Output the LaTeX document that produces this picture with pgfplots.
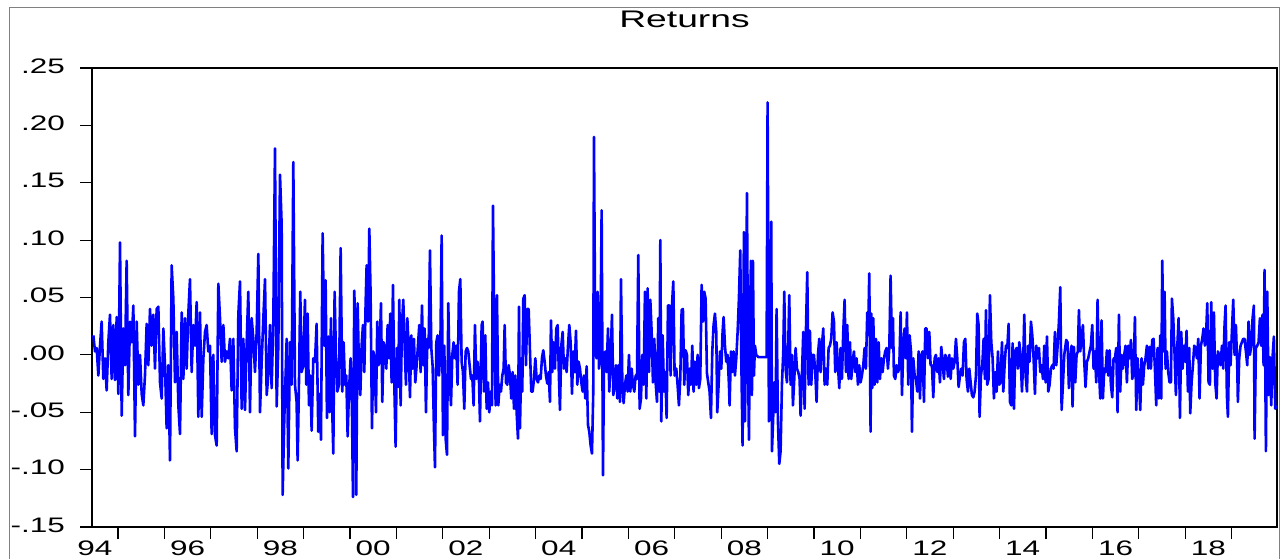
\documentclass[border=0pt]{standalone}
\usepackage{fontspec}
\setmainfont{Liberation Sans}
\usepackage{graphicx}
\usepackage{pgfplots}
\usepackage{pgfplotstable}
\pgfplotsset{compat=1.18}
\newcommand\hs[1]{\scalebox{1.5}[1]{#1}}
\pgfplotstableread{
x y
1994.469 0.017
1994.505 0.003
1994.541 0.006
1994.577 -0.018
1994.613 0.008
1994.648 0.029
1994.684 -0.021
1994.720 -0.003
1994.756 -0.031
1994.792 0.011
1994.828 0.035
1994.864 -0.021
1994.900 0.026
1994.936 -0.022
1994.972 0.033
1995.008 -0.034
1995.044 0.098
1995.080 -0.053
1995.115 0.023
1995.151 -0.009
1995.187 0.082
1995.223 -0.035
1995.259 0.029
1995.295 0.011
1995.331 0.043
1995.367 -0.071
1995.403 0.029
1995.439 -0.026
1995.475 0.000
1995.511 -0.034
1995.546 -0.044
1995.582 -0.018
1995.618 0.027
1995.654 -0.009
1995.690 0.040
1995.726 0.008
1995.762 0.035
1995.798 -0.012
1995.834 0.040
1995.870 0.042
1995.906 -0.024
1995.942 -0.038
1995.978 0.023
1996.013 -0.009
1996.049 -0.064
1996.085 -0.009
1996.121 -0.092
1996.157 0.078
1996.193 0.049
1996.229 -0.024
1996.265 0.020
1996.301 -0.044
1996.337 -0.069
1996.373 0.037
1996.409 -0.021
1996.444 0.032
1996.480 -0.012
1996.516 0.036
1996.552 0.066
1996.588 -0.015
1996.624 0.026
1996.660 0.008
1996.696 0.046
1996.732 -0.054
1996.768 0.037
1996.804 -0.054
1996.840 -0.003
1996.876 0.020
1996.911 0.026
1996.947 0.003
1996.983 0.008
1997.019 -0.069
1997.055 0.000
1997.091 -0.070
1997.127 -0.079
1997.163 0.062
1997.199 0.032
1997.235 -0.006
1997.271 0.026
1997.307 -0.006
1997.342 0.003
1997.378 -0.003
1997.414 0.014
1997.450 -0.031
1997.486 0.014
1997.522 -0.064
1997.558 -0.084
1997.594 0.035
1997.630 0.064
1997.666 -0.047
1997.702 0.014
1997.738 -0.048
1997.774 0.011
1997.809 0.055
1997.845 -0.050
1997.881 0.032
1997.917 0.014
1997.953 -0.015
1997.989 0.020
1998.025 0.088
1998.061 -0.050
1998.097 -0.006
1998.133 0.032
1998.169 0.066
1998.205 -0.035
1998.240 -0.018
1998.276 0.026
1998.312 -0.029
1998.348 0.029
1998.384 0.180
1998.420 -0.045
1998.456 0.008
1998.492 0.157
1998.528 0.113
1998.549 -0.122
1998.585 -0.055
1998.636 0.014
1998.671 -0.099
1998.707 0.011
1998.743 -0.026
1998.779 0.168
1998.815 -0.026
1998.850 -0.041
1998.872 -0.092
1998.901 -0.024
1998.929 0.055
1998.958 -0.015
1998.994 -0.009
1999.030 0.048
1999.059 -0.026
1999.088 0.036
1999.116 -0.044
1999.145 -0.018
1999.174 -0.066
1999.210 -0.003
1999.246 -0.006
1999.281 0.027
1999.317 -0.067
1999.346 -0.034
1999.375 -0.074
1999.411 0.106
1999.447 0.008
1999.475 0.065
1999.504 -0.055
1999.533 0.016
1999.562 -0.050
1999.590 0.032
1999.619 -0.050
1999.641 -0.086
1999.669 0.055
1999.698 0.000
1999.727 -0.032
1999.763 -0.026
1999.799 0.093
1999.835 -0.032
1999.863 0.011
1999.892 -0.026
1999.921 -0.018
1999.950 -0.071
1999.978 -0.032
2000.014 -0.003
2000.043 -0.047
2000.065 -0.124
2000.093 0.056
2000.122 0.008
2000.136 -0.122
2000.165 0.045
2000.194 -0.012
2000.223 -0.035
2000.251 0.008
2000.280 0.026
2000.309 -0.015
2000.338 0.046
2000.359 0.078
2000.388 0.029
2000.417 0.110
2000.445 0.052
2000.474 -0.064
2000.503 0.003
2000.531 -0.003
2000.560 -0.050
2000.589 0.029
2000.618 -0.009
2000.646 0.011
2000.668 0.045
2000.697 -0.041
2000.725 0.011
2000.754 0.006
2000.783 -0.012
2000.812 0.026
2000.840 -0.003
2000.869 0.036
2000.898 -0.024
2000.927 0.061
2000.955 -0.024
2000.984 -0.080
2001.013 0.006
2001.042 -0.028
2001.063 0.048
2001.092 -0.044
2001.121 0.026
2001.149 0.048
2001.178 0.008
2001.207 -0.026
2001.236 0.032
2001.264 0.008
2001.293 -0.037
2001.322 0.017
2001.350 -0.012
2001.379 0.014
2001.408 -0.024
2001.437 -0.009
2001.465 0.008
2001.494 0.026
2001.523 -0.015
2001.552 0.043
2001.580 -0.009
2001.609 0.023
2001.638 -0.050
2001.667 0.014
2001.695 0.006
2001.724 0.091
2001.753 0.006
2001.782 -0.010
2001.810 -0.064
2001.832 -0.098
2001.861 0.011
2001.889 0.017
2001.918 -0.018
2001.947 0.003
2001.976 0.104
2002.004 -0.070
2002.033 0.008
2002.062 -0.073
2002.091 -0.087
2002.119 0.045
2002.148 -0.018
2002.177 -0.044
2002.206 0.000
2002.234 0.011
2002.263 -0.003
2002.292 0.008
2002.320 -0.026
2002.349 0.055
2002.378 0.066
2002.407 -0.006
2002.435 -0.015
2002.464 -0.047
2002.493 0.003
2002.522 0.006
2002.550 0.003
2002.579 -0.009
2002.608 -0.021
2002.636 -0.018
2002.665 -0.044
2002.694 0.026
2002.723 -0.021
2002.751 -0.006
2002.780 -0.021
2002.802 -0.058
2002.838 0.026
2002.859 0.029
2002.888 -0.032
2002.917 0.017
2002.946 -0.047
2002.974 -0.024
2003.003 -0.050
2003.032 -0.032
2003.061 -0.044
2003.082 0.130
2003.111 0.020
2003.140 -0.044
2003.168 0.052
2003.197 -0.044
2003.226 -0.026
2003.255 -0.032
2003.283 -0.018
2003.312 -0.012
2003.334 0.026
2003.362 -0.024
2003.391 -0.026
2003.420 -0.009
2003.449 -0.018
2003.477 -0.038
2003.506 -0.015
2003.535 -0.047
2003.564 -0.018
2003.592 -0.050
2003.621 -0.073
2003.643 0.042
2003.664 -0.064
2003.693 -0.003
2003.714 -0.032
2003.736 0.049
2003.765 0.052
2003.793 -0.009
2003.822 0.040
2003.851 0.040
2003.880 0.003
2003.908 -0.032
2003.937 -0.032
2003.966 -0.021
2003.995 -0.003
2004.023 -0.021
2004.052 -0.024
2004.081 -0.018
2004.109 -0.021
2004.138 -0.003
2004.167 0.004
2004.196 -0.006
2004.224 -0.018
2004.253 -0.025
2004.282 -0.015
2004.311 -0.041
2004.332 0.030
2004.361 -0.015
2004.390 0.011
2004.418 -0.012
2004.447 0.023
2004.476 0.026
2004.505 -0.021
2004.526 -0.048
2004.555 0.008
2004.584 0.020
2004.612 -0.012
2004.641 -0.003
2004.670 -0.015
2004.699 0.008
2004.727 0.026
2004.756 0.011
2004.785 -0.034
2004.813 0.003
2004.842 -0.015
2004.871 0.021
2004.900 -0.026
2004.928 -0.006
2004.957 -0.012
2004.986 -0.024
2005.015 -0.032
2005.043 -0.018
2005.072 -0.038
2005.101 -0.010
2005.130 -0.061
2005.158 -0.067
2005.187 -0.079
2005.216 -0.086
2005.244 -0.032
2005.259 0.190
2005.288 0.003
2005.316 -0.003
2005.338 0.055
2005.367 -0.012
2005.395 -0.003
2005.424 0.126
2005.453 -0.105
2005.474 -0.015
2005.503 0.003
2005.532 -0.015
2005.561 0.023
2005.589 -0.032
2005.618 -0.003
2005.647 0.035
2005.676 -0.035
2005.704 -0.026
2005.733 -0.009
2005.762 -0.038
2005.790 -0.009
2005.819 -0.041
2005.841 0.066
2005.870 -0.024
2005.898 -0.042
2005.927 -0.026
2005.956 -0.018
2005.985 -0.032
2006.013 0.000
2006.042 -0.032
2006.071 -0.012
2006.099 -0.026
2006.128 -0.032
2006.157 -0.018
2006.186 -0.021
2006.214 0.087
2006.243 -0.047
2006.272 -0.038
2006.301 0.000
2006.329 -0.026
2006.358 0.055
2006.387 -0.038
2006.415 0.058
2006.444 -0.015
2006.473 0.048
2006.502 0.020
2006.530 -0.024
2006.559 0.014
2006.588 -0.024
2006.617 -0.041
2006.645 0.032
2006.667 -0.032
2006.689 0.100
2006.710 -0.058
2006.739 0.017
2006.768 -0.032
2006.796 -0.015
2006.825 -0.055
2006.854 0.043
2006.883 0.043
2006.911 -0.018
2006.940 0.043
2006.969 0.064
2006.997 -0.018
2007.033 -0.012
2007.061 -0.026
2007.090 -0.044
2007.119 -0.021
2007.148 0.039
2007.176 0.040
2007.205 -0.026
2007.234 0.004
2007.263 0.000
2007.291 -0.035
2007.320 -0.012
2007.349 -0.026
2007.378 0.008
2007.406 -0.032
2007.435 -0.006
2007.464 -0.026
2007.493 0.000
2007.521 -0.029
2007.550 -0.021
2007.579 0.061
2007.607 0.029
2007.636 0.055
2007.665 0.049
2007.694 -0.016
2007.722 -0.024
2007.751 -0.032
2007.780 -0.055
2007.809 0.003
2007.837 0.026
2007.866 0.036
2007.895 0.020
2007.916 -0.050
2007.945 -0.026
2007.974 0.003
2008.003 -0.012
2008.031 0.020
2008.053 0.033
2008.082 0.008
2008.110 -0.006
2008.139 0.000
2008.168 -0.026
2008.182 -0.044
2008.211 0.003
2008.240 -0.015
2008.268 0.003
2008.297 -0.018
2008.326 -0.003
2008.355 0.020
2008.383 0.049
2008.412 0.091
2008.434 -0.003
2008.462 -0.079
2008.491 0.107
2008.513 -0.058
2008.534 0.006
2008.556 0.141
2008.577 0.003
2008.599 -0.074
2008.620 0.026
2008.642 0.082
2008.663 -0.035
2008.685 0.082
2008.707 -0.018
2008.728 0.008
2008.757 0.000
2008.800 -0.002
2008.872 -0.002
2008.944 -0.002
2008.980 -0.002
2009.001 0.220
2009.030 -0.058
2009.059 0.046
2009.080 0.116
2009.095 -0.084
2009.116 -0.061
2009.145 -0.024
2009.174 -0.050
2009.195 0.040
2009.224 -0.058
2009.253 -0.095
2009.281 -0.084
2009.310 -0.026
2009.339 0.003
2009.360 0.055
2009.389 -0.012
2009.418 -0.024
2009.446 0.008
2009.468 0.052
2009.497 -0.026
2009.526 0.000
2009.547 -0.044
2009.576 -0.021
2009.605 0.006
2009.633 -0.012
2009.662 -0.015
2009.691 -0.021
2009.712 -0.053
2009.741 -0.018
2009.770 0.020
2009.799 -0.047
2009.827 0.020
2009.856 0.072
2009.885 -0.026
2009.913 0.021
2009.942 -0.026
2009.971 0.000
2010.000 0.000
2010.028 -0.015
2010.057 -0.041
2010.086 0.000
2010.115 0.014
2010.143 -0.015
2010.172 0.008
2010.201 0.023
2010.230 -0.026
2010.258 -0.012
2010.287 -0.026
2010.316 0.006
2010.344 0.008
2010.373 0.014
2010.402 0.037
2010.431 0.029
2010.459 -0.015
2010.488 0.011
2010.517 -0.009
2010.546 -0.029
2010.574 0.006
2010.603 -0.021
2010.632 0.020
2010.661 0.048
2010.689 -0.015
2010.718 0.026
2010.747 -0.021
2010.776 0.011
2010.804 -0.021
2010.833 -0.006
2010.862 0.003
2010.891 -0.015
2010.919 -0.003
2010.948 -0.026
2010.977 -0.009
2011.005 -0.024
2011.034 -0.018
2011.063 -0.009
2011.092 0.006
2011.120 -0.012
2011.149 0.037
2011.171 0.023
2011.192 0.071
2011.221 -0.067
2011.236 0.036
2011.257 -0.029
2011.279 0.032
2011.308 -0.026
2011.336 0.014
2011.365 -0.024
2011.394 0.011
2011.423 -0.021
2011.451 -0.003
2011.480 -0.015
2011.509 -0.003
2011.537 0.003
2011.566 0.006
2011.595 -0.012
2011.624 0.006
2011.652 0.069
2011.681 0.006
2011.703 0.032
2011.724 -0.018
2011.753 -0.021
2011.782 -0.009
2011.810 -0.015
2011.839 -0.012
2011.868 0.037
2011.897 -0.035
2011.925 0.006
2011.954 0.023
2011.983 -0.003
2012.004 0.037
2012.033 -0.026
2012.062 0.017
2012.091 0.003
2012.112 -0.067
2012.141 -0.003
2012.170 -0.018
2012.198 -0.021
2012.227 -0.032
2012.256 0.003
2012.285 -0.038
2012.313 0.000
2012.342 0.003
2012.371 -0.041
2012.400 0.023
2012.428 0.023
2012.457 -0.003
2012.486 0.020
2012.514 -0.009
2012.543 -0.009
2012.572 -0.037
2012.601 -0.003
2012.629 0.000
2012.658 -0.015
2012.687 -0.003
2012.716 -0.024
2012.744 0.007
2012.773 -0.006
2012.802 -0.021
2012.831 0.000
2012.859 -0.003
2012.888 -0.019
2012.917 0.000
2012.946 -0.021
2012.974 -0.003
2013.003 -0.012
2013.032 -0.006
2013.060 0.014
2013.089 -0.003
2013.118 -0.028
2013.147 -0.018
2013.175 -0.012
2013.204 -0.018
2013.233 0.011
2013.262 0.014
2013.290 -0.021
2013.319 -0.032
2013.348 -0.012
2013.377 -0.024
2013.405 -0.035
2013.434 -0.037
2013.463 -0.032
2013.492 -0.018
2013.520 0.036
2013.549 0.026
2013.570 -0.054
2013.599 -0.018
2013.628 -0.009
2013.657 0.014
2013.685 -0.021
2013.707 0.039
2013.736 -0.026
2013.764 -0.021
2013.793 0.052
2013.822 0.011
2013.851 -0.003
2013.879 -0.038
2013.908 -0.015
2013.937 -0.032
2013.966 0.003
2013.994 -0.026
2014.023 -0.024
2014.052 0.011
2014.081 -0.032
2014.109 -0.009
2014.138 0.008
2014.167 0.006
2014.196 0.027
2014.224 -0.041
2014.253 -0.044
2014.282 0.010
2014.311 -0.047
2014.339 0.003
2014.368 0.006
2014.397 -0.012
2014.425 0.011
2014.454 0.000
2014.483 -0.032
2014.512 -0.003
2014.533 0.035
2014.562 -0.018
2014.591 -0.032
2014.619 0.008
2014.648 -0.006
2014.677 0.029
2014.706 0.017
2014.734 -0.003
2014.763 -0.034
2014.792 0.008
2014.821 -0.003
2014.849 0.006
2014.878 -0.015
2014.907 -0.009
2014.936 -0.021
2014.964 0.008
2014.993 -0.024
2015.022 0.016
2015.050 -0.032
2015.079 -0.026
2015.108 -0.012
2015.137 -0.009
2015.165 -0.012
2015.194 0.020
2015.223 -0.009
2015.252 0.008
2015.280 0.029
2015.309 0.059
2015.338 -0.048
2015.366 -0.026
2015.395 0.000
2015.438 0.013
2015.466 0.011
2015.495 -0.029
2015.524 -0.003
2015.553 0.008
2015.574 -0.045
2015.603 0.007
2015.632 -0.024
2015.660 0.000
2015.689 0.003
2015.711 0.039
2015.739 0.003
2015.768 0.014
2015.797 0.026
2015.826 -0.006
2015.854 -0.028
2015.883 -0.006
2015.912 -0.003
2015.941 0.003
2015.969 0.008
2015.998 0.026
2016.027 -0.012
2016.056 0.003
2016.084 -0.024
2016.113 0.048
2016.142 -0.012
2016.170 -0.038
2016.199 0.030
2016.228 -0.038
2016.257 -0.012
2016.285 -0.015
2016.314 0.004
2016.343 -0.018
2016.372 0.004
2016.400 -0.026
2016.429 -0.037
2016.458 -0.003
2016.487 -0.003
2016.515 0.006
2016.544 -0.050
2016.573 0.035
2016.601 -0.032
2016.630 0.000
2016.659 -0.012
2016.688 0.000
2016.716 0.008
2016.745 -0.024
2016.774 0.008
2016.803 -0.003
2016.831 0.013
2016.860 -0.021
2016.889 -0.015
2016.918 0.033
2016.946 -0.048
2016.975 -0.003
2017.004 -0.021
2017.033 -0.048
2017.061 -0.003
2017.090 -0.026
2017.119 -0.009
2017.147 -0.003
2017.176 0.008
2017.205 -0.012
2017.234 0.007
2017.262 -0.012
2017.291 0.013
2017.320 0.014
2017.349 -0.012
2017.377 -0.044
2017.406 0.006
2017.435 -0.038
2017.464 0.017
2017.485 -0.038
2017.507 0.082
2017.535 0.003
2017.557 0.055
2017.579 -0.012
2017.607 0.003
2017.636 -0.015
2017.665 -0.024
2017.694 -0.024
2017.715 0.049
2017.744 0.032
2017.773 0.000
2017.801 -0.035
2017.830 0.006
2017.859 0.032
2017.888 -0.055
2017.916 0.020
2017.945 -0.012
2017.974 0.008
2018.003 -0.006
2018.031 0.021
2018.060 -0.032
2018.089 0.006
2018.110 -0.051
2018.139 -0.024
2018.168 -0.009
2018.196 0.008
2018.225 0.006
2018.254 -0.003
2018.283 0.014
2018.311 -0.038
2018.340 0.008
2018.369 0.014
2018.397 0.023
2018.426 0.008
2018.455 0.021
2018.477 0.045
2018.505 -0.024
2018.534 -0.026
2018.563 0.046
2018.592 -0.012
2018.620 0.037
2018.649 -0.024
2018.678 -0.038
2018.706 0.003
2018.735 0.000
2018.764 -0.009
2018.793 0.008
2018.821 -0.012
2018.850 0.026
2018.872 0.043
2018.900 -0.035
2018.922 -0.054
2018.951 0.011
2018.979 -0.009
2019.008 0.020
2019.037 0.048
2019.066 0.000
2019.094 0.026
2019.123 -0.009
2019.137 -0.041
2019.166 -0.003
2019.195 0.008
2019.224 0.011
2019.252 0.014
2019.281 0.014
2019.310 0.003
2019.339 -0.009
2019.367 0.029
2019.396 0.000
2019.425 0.008
2019.454 0.032
2019.482 0.043
2019.497 -0.073
2019.525 0.006
2019.554 0.008
2019.583 0.011
2019.612 0.032
2019.640 0.008
2019.669 0.035
2019.691 -0.009
2019.712 0.074
2019.741 -0.084
2019.770 0.055
2019.798 -0.035
2019.827 -0.002
2019.856 -0.044
2019.884 -0.002
2019.913 0.016
2019.942 -0.047
2019.964 -0.044
}\returns
\begin{document}
\begin{tikzpicture}
\begin{axis}[
  scale only axis, width=592.5pt, height=229.5pt,
  xmin=1994.44, xmax=2019.98, ymin=-0.15, ymax=0.25,
  axis line style={black, line width=0.9pt},
  tick pos=left, tick align=outside,
  tick style={black, line width=0.6pt},
  major tick length=6pt, minor tick length=2.5pt,
  xtick={1995,1996,...,2019}, xticklabel=\empty,
  minor x tick num=3,
  extra x ticks={1994.5,1996.5,1998.5,2000.5,2002.5,2004.5,2006.5,2008.5,2010.5,2012.5,2014.5,2016.5,2018.5},
  extra x tick labels={\hs{94},\hs{96},\hs{98},\hs{00},\hs{02},\hs{04},\hs{06},\hs{08},\hs{10},\hs{12},\hs{14},\hs{16},\hs{18}},
  extra x tick style={major tick length=0pt, xticklabel style={yshift=-3.5pt}},
  ytick={-0.15,-0.10,-0.05,0,0.05,0.10,0.15,0.20,0.25},
  yticklabels={\hs{-.15},\hs{-.10},\hs{-.05},\hs{.00},\hs{.05},\hs{.10},\hs{.15},\hs{.20},\hs{.25}},
  yticklabel style={xshift=-4pt, yshift=1pt},
  ticklabel style={font=\fontsize{10.5}{12}\selectfont},
]
\addplot[color={rgb,255:red,0;green,0;blue,255}, line width=1.3pt, line join=round] table[x=x,y=y] {\returns};
\end{axis}
\draw[gray, line width=0.5pt] (-41pt,-40pt) rectangle (593.5pt,259.5pt);
\node[anchor=base, font=\fontsize{12}{14}\selectfont] at (296.25pt,249.5pt) {\scalebox{1.55}[1]{Returns}};
\pgfresetboundingbox
\useasboundingbox (-46pt,-15.5pt) rectangle (595pt,263.5pt);
\end{tikzpicture}
\end{document}
